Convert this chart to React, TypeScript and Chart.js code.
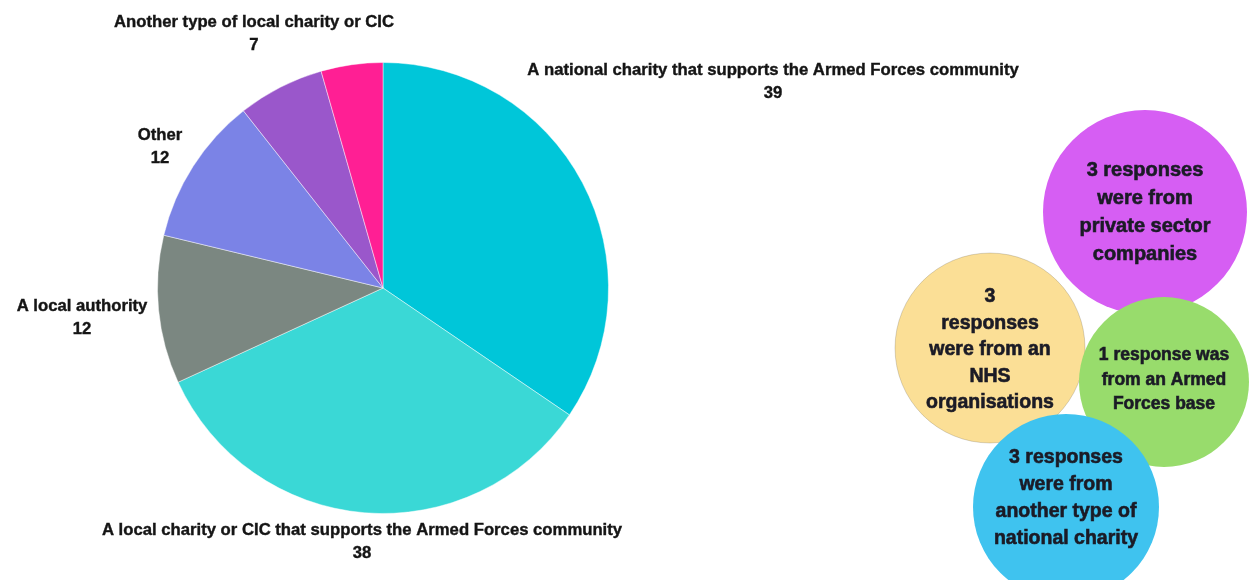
import React, { useEffect, useRef } from "react";
import { Chart, registerables } from "chart.js";

Chart.register(...registerables);

// ---- Data ----
const categories = [
  "A national charity that supports the Armed Forces community",
  "A local charity or CIC that supports the Armed Forces community",
  "A local authority",
  "Other",
  "Another type of local charity or CIC",
  "",
];
const responseCounts = [39, 38, 12, 12, 7, 5];
const sliceColors = ["#00C6D9", "#3AD8D6", "#7B8781", "#7B83E6", "#9A57CB", "#FF1F94"];
const showLabel = [true, true, true, true, true, false];

// Callout bubbles (text data)
const bubbleTexts = [
  ["3", "responses", "were from an", "NHS", "organisations"],
  ["3 responses", "were from", "private sector", "companies"],
  ["1 response was", "from an Armed", "Forces base"],
  ["3 responses", "were from", "another type of", "national charity"],
];
const bubbleColors = ["#FBDF96", "#D65EF3", "#98DC6C", "#3FC3EF"];

// ---- Layout (positions / sizes, not data) ----
const labelAnchors = [
  { x: 773, y: 70 },
  { x: 362, y: 530 },
  { x: 82, y: 306 },
  { x: 160, y: 135 },
  { x: 254, y: 22 },
  { x: 0, y: 0 },
];
const bubbleLayout = [
  { cx: 990, cy: 348, r: 95, ty: 350, font: 19.5, lh: 26.5, outline: true },
  { cx: 1145, cy: 212, r: 102, ty: 212, font: 20, lh: 28, outline: false },
  { cx: 1164, cy: 382, r: 85, ty: 380, font: 17.5, lh: 24.5, outline: false },
  { cx: 1066, cy: 507, r: 93, ty: 498, font: 19.5, lh: 27, outline: false },
];

const W = 1249;
const H = 580;

const outerLabelsPlugin = {
  id: "outerLabels",
  afterDatasetsDraw(chart: any) {
    const ctx = chart.ctx;
    const values = chart.data.datasets[0].data;
    ctx.save();
    ctx.fillStyle = "#151515";
    ctx.strokeStyle = "#151515";
    ctx.lineWidth = 0.4;
    ctx.font = "bold 16.7px 'Liberation Sans', Arial, sans-serif";
    ctx.textAlign = "center";
    ctx.textBaseline = "middle";
    chart.data.labels.forEach((lab: string, i: number) => {
      if (!showLabel[i]) return;
      const a = labelAnchors[i];
      ctx.fillText(lab, a.x, a.y);
      ctx.strokeText(lab, a.x, a.y);
      ctx.fillText(String(values[i]), a.x, a.y + 23);
      ctx.strokeText(String(values[i]), a.x, a.y + 23);
    });
    ctx.restore();
  },
};

const bubblesPlugin = {
  id: "bubbles",
  afterDraw(chart: any) {
    const ctx = chart.ctx;
    ctx.save();
    bubbleTexts.forEach((lines, i) => {
      const b = bubbleLayout[i];
      ctx.beginPath();
      ctx.arc(b.cx, b.cy, b.r, 0, Math.PI * 2);
      ctx.fillStyle = bubbleColors[i];
      ctx.fill();
      if (b.outline) {
        ctx.strokeStyle = "rgba(0,0,0,0.15)";
        ctx.lineWidth = 1;
        ctx.stroke();
      }
      ctx.fillStyle = "#1b1b26";
      ctx.strokeStyle = "#1b1b26";
      ctx.lineWidth = 0.6;
      ctx.font = `bold ${b.font}px 'Liberation Sans', Arial, sans-serif`;
      ctx.textAlign = "center";
      ctx.textBaseline = "middle";
      const start = b.ty - ((lines.length - 1) * b.lh) / 2;
      lines.forEach((t, j) => {
        ctx.fillText(t, b.cx, start + j * b.lh);
        ctx.strokeText(t, b.cx, start + j * b.lh);
      });
    });
    ctx.restore();
  },
};

export default function App() {
  const ref = useRef<HTMLCanvasElement | null>(null);
  useEffect(() => {
    document.body.style.margin = "0";
    if (!ref.current) return;
    const chart = new Chart(ref.current, {
      type: "pie",
      data: {
        labels: categories,
        datasets: [
          {
            data: responseCounts,
            backgroundColor: sliceColors,
            borderColor: "rgba(255,255,255,0.45)",
            borderWidth: 1,
          },
        ],
      },
      options: {
        responsive: false,
        animation: false,
        devicePixelRatio: 1,
        layout: { padding: { left: 157, top: 62, right: W - 609, bottom: H - 514 } },
        plugins: {
          legend: { display: false },
          tooltip: { enabled: false },
        },
      },
      plugins: [outerLabelsPlugin, bubblesPlugin],
    });
    return () => chart.destroy();
  }, []);
  return (
    <div style={{ position: "absolute", left: 0, top: 0, width: W, height: H, background: "#fff" }}>
      <canvas ref={ref} width={W} height={H} style={{ width: W, height: H, display: "block" }} />
    </div>
  );
}
